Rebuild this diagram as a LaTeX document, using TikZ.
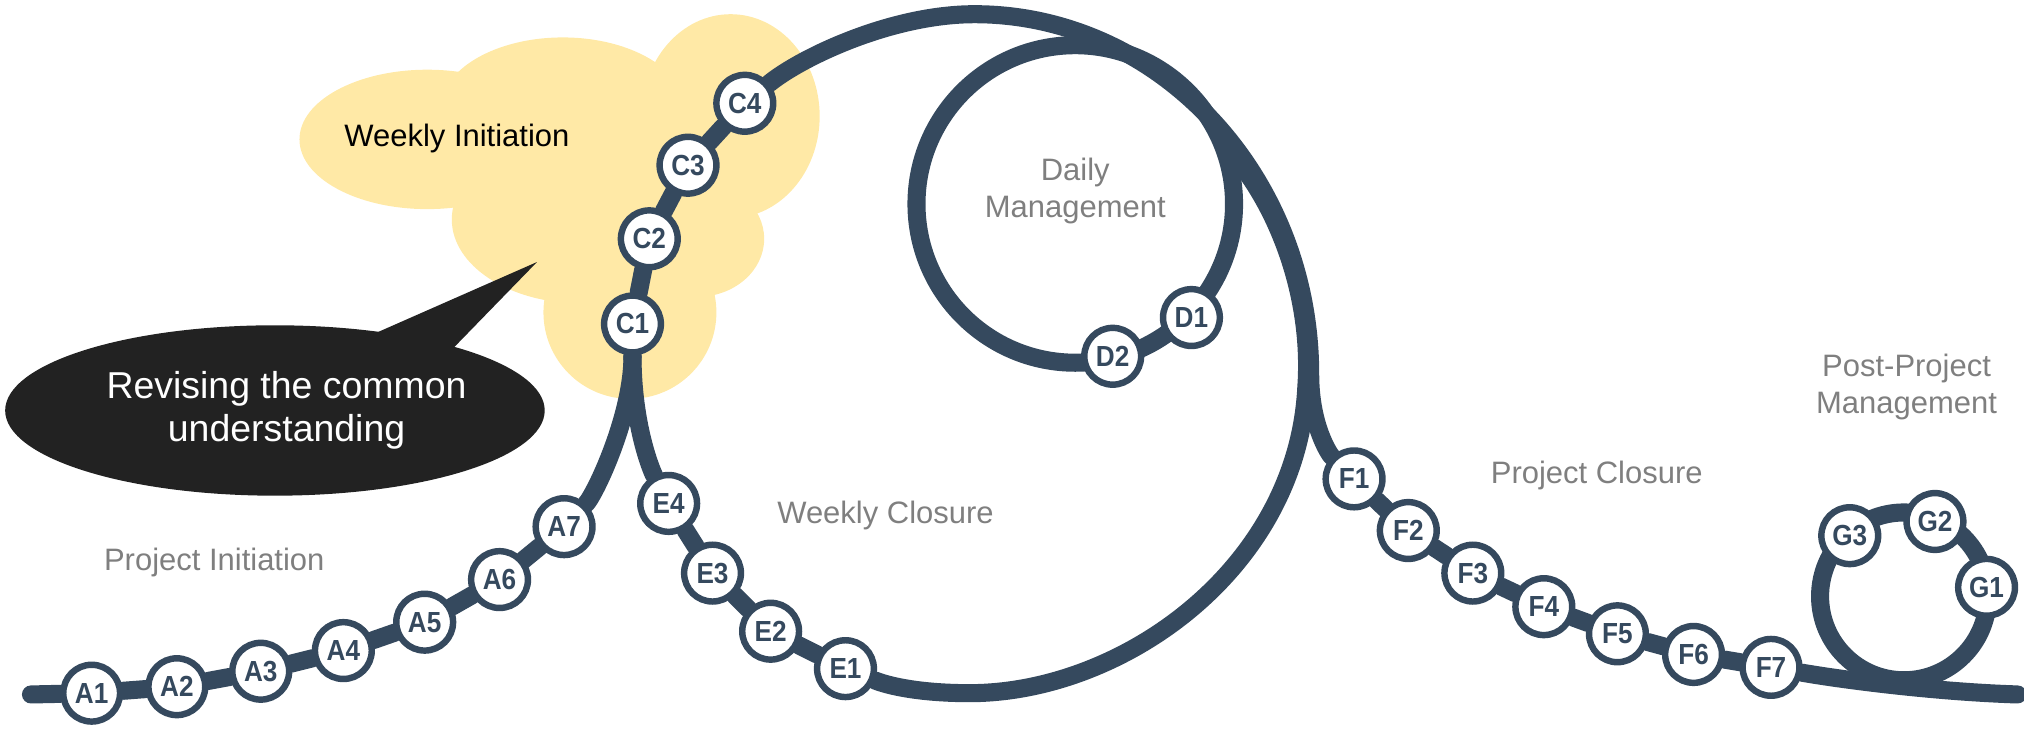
\documentclass[tikz,border=0pt]{standalone}
\usepackage{graphicx}
\usepackage{fontspec}
\setmainfont{Liberation Sans}
\definecolor{navy}{HTML}{35495E}
\definecolor{cloudc}{HTML}{FFE9A6}
\definecolor{bubc}{HTML}{222222}
\definecolor{graytxt}{HTML}{7F7F7F}
\pgfdeclarelayer{back}
\pgfdeclarelayer{mid}
\pgfsetlayers{back,mid,main}
\newcommand{\stlab}[1]{\scalebox{0.9}[1]{#1}}
\tikzset{
  stn/.style={circle, draw=navy, line width=5pt, fill=white, minimum size=44pt,
    inner sep=0pt, text=navy, font=\fontsize{22.5}{22.5}\selectfont\bfseries},
  rope/.style={draw=navy, line width=14pt, line cap=round},
  lbl/.style={font=\fontsize{24}{29}\selectfont, text=graytxt, align=center, inner sep=0pt},
}
\begin{document}
\begin{tikzpicture}[x=1pt,y=-1pt]
\useasboundingbox (0,0) rectangle (1568,564);

% stations
\node[stn] (A1) at (71,537) {\stlab{A1}};
\node[stn] (A2) at (137,532) {\stlab{A2}};
\node[stn] (A3) at (202,520) {\stlab{A3}};
\node[stn] (A4) at (266,504) {\stlab{A4}};
\node[stn] (A5) at (329,482) {\stlab{A5}};
\node[stn] (A6) at (387,449) {\stlab{A6}};
\node[stn] (A7) at (437,408) {\stlab{A7}};
\node[stn] (C1) at (490,251) {\stlab{C1}};
\node[stn] (C2) at (503,185) {\stlab{C2}};
\node[stn] (C3) at (533,128) {\stlab{C3}};
\node[stn] (C4) at (577,80) {\stlab{C4}};
\node[stn] (D1) at (923,246) {\stlab{D1}};
\node[stn] (D2) at (862,276) {\stlab{D2}};
\node[stn] (E4) at (518,390) {\stlab{E4}};
\node[stn] (E3) at (552,444) {\stlab{E3}};
\node[stn] (E2) at (597,489) {\stlab{E2}};
\node[stn] (E1) at (655,518) {\stlab{E1}};
\node[stn] (F1) at (1049,371) {\stlab{F1}};
\node[stn] (F2) at (1091,411) {\stlab{F2}};
\node[stn] (F3) at (1141,444) {\stlab{F3}};
\node[stn] (F4) at (1196,470) {\stlab{F4}};
\node[stn] (F5) at (1253,491) {\stlab{F5}};
\node[stn] (F6) at (1312,507) {\stlab{F6}};
\node[stn] (F7) at (1372,517) {\stlab{F7}};
\node[stn] (G1) at (1539,455) {\stlab{G1}};
\node[stn] (G2) at (1499,404) {\stlab{G2}};
\node[stn] (G3) at (1433,415) {\stlab{G3}};

\coordinate (start) at (24,538);
\coordinate (finish) at (1563,538);
\coordinate (Dc) at (833,158);
\coordinate (Gc) at (1475,462);
\coordinate (wbot) at (751,537);
\coordinate (wside) at (1012,300);
\coordinate (wtop) at (955,120);
\coordinate (otop) at (755,11);
\coordinate (oside) at (1015,290);

% labels
\node[font=\fontsize{24}{29}\selectfont, inner sep=0pt] (wi) at (354,107) {Weekly Initiation};
\node[lbl] (dm) at (833,148) {Daily\\Management};
\node[lbl] (wc) at (686,399) {Weekly Closure};
\node[lbl] (pi) at (166,436) {Project Initiation};
\node[lbl] (pc) at (1237,368) {Project Closure};
\node[lbl] (ppm) at (1477,300) {Post-Project\\Management};
\node[font=\fontsize{29}{33}\selectfont, text=white, align=center, inner sep=0pt] (rev) at (222,318) {Revising the common\\understanding};

\begin{pgfonlayer}{back}
  \fill[cloudc] (331,108) ellipse (99 and 54);
  \fill[cloudc] (436,85) ellipse (95 and 56);
  \fill[cloudc] (566,90) ellipse (69 and 79);
  \fill[cloudc] (540,185) ellipse (52 and 45);
  \fill[cloudc] (450,170) ellipse (100 and 65);
  \fill[cloudc] (488,242) ellipse (67 and 67);
  \fill[bubc] (213,318) ellipse (209 and 66);
  \fill[bubc] (282,262) -- (416,203) -- (346,275) -- cycle;
\end{pgfonlayer}

\begin{pgfonlayer}{mid}
  \draw[rope] (start) -- (A1) -- (A2) -- (A3) -- (A4) -- (A5) -- (A6) -- (A7);
  \draw[rope] (A7) .. controls (461,383) and (490,322) .. (C1);
  \draw[rope] (C1) -- (C2) -- (C3) -- (C4);
  \draw[rope] (C1) .. controls (490,330) and (505,365) .. (E4);
  \draw[rope] (E4) -- (E3) -- (E2) -- (E1);
  \draw[rope] (E1) .. controls (690,532) and (715,537) .. (wbot)
     .. controls (870,537) and (1005,440) .. (wside)
     .. controls (1017,230) and (990,160) .. (wtop);
  \draw[rope] (C4) .. controls (620,45) and (690,11) .. (otop)
     .. controls (898,11) and (1015,136) .. (oside)
     .. controls (1015,330) and (1030,352) .. (F1);
  \draw[rope] (Dc) circle (123);
  \draw[rope] (F1) -- (F2) -- (F3) -- (F4) -- (F5) -- (F6) -- (F7);
  \draw[rope] (F7) .. controls (1430,527) and (1500,536) .. (finish);
  \draw[rope] (Gc) circle (65);
\end{pgfonlayer}
\end{tikzpicture}
\end{document}
